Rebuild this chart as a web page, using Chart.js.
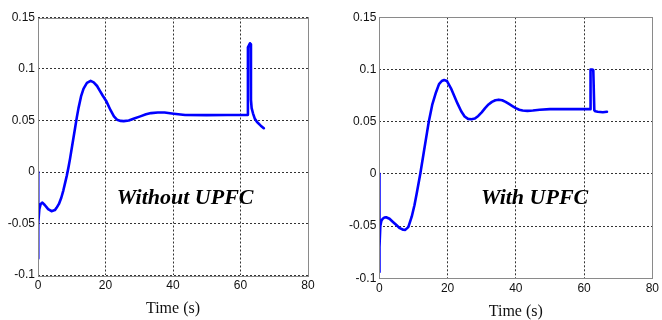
<!DOCTYPE html>
<html>
<head>
<meta charset="utf-8">
<script src="https://cdn.jsdelivr.net/npm/chart.js@4/dist/chart.umd.min.js"></script>
<style>
  html, body { margin: 0; padding: 0; background: #fff; }
  #wrap { position: relative; width: 662px; height: 320px; overflow: hidden; }
  canvas { position: absolute; top: 0; }
</style>
</head>
<body>
<div id="wrap">
  <canvas id="c1" width="330" height="320" style="left:0px"></canvas>
  <canvas id="c2" width="332" height="320" style="left:330px"></canvas>
</div>
<script>
// ---- Data ----
const yTickValues = [-0.1, -0.05, 0, 0.05, 0.1, 0.15];
const yTickLabels = ['-0.1', '-0.05', '0', '0.05', '0.1', '0.15'];
const xTickValues = [0, 20, 40, 60, 80];
const xTickLabels = ['0', '20', '40', '60', '80'];
const xAxisTitle = 'Time (s)';
const panelLabels = ['Without UPFC', 'With UPFC'];

// Without UPFC
const timeWithout = [0, 0, 0.15, 0.4, 0.8, 1.3, 2, 3, 4, 5, 5.5, 6.2, 6.9, 7.5, 8.0, 8.5, 9.0, 9.5, 10, 10.5, 11, 11.5, 12, 12.8, 13.5, 14.5, 15.6, 16.5, 17.5, 18.3, 19.2, 20.2, 21.5, 22.5, 23.4, 24.5, 25.4, 26.9, 28.5, 30.3, 32, 33.5, 35.5, 37.5, 40.2, 43.6, 50, 56, 62.1, 62.2, 62.5, 62.8, 63.0, 63.1, 63.3, 63.7, 64.2, 64.9, 66, 66.9];
const valWithout  = [0, -0.084, -0.05, -0.036, -0.031, -0.0297, -0.032, -0.036, -0.038, -0.037, -0.0348, -0.031, -0.025, -0.018, -0.011, -0.004, 0.004, 0.013, 0.023, 0.033, 0.043, 0.053, 0.062, 0.074, 0.081, 0.0865, 0.0885, 0.087, 0.0835, 0.079, 0.074, 0.069, 0.060, 0.054, 0.0508, 0.0496, 0.0494, 0.050, 0.052, 0.054, 0.056, 0.0572, 0.0578, 0.0577, 0.0566, 0.0553, 0.0552, 0.0553, 0.0555, 0.121, 0.123, 0.125, 0.124, 0.070, 0.062, 0.057, 0.052, 0.0485, 0.045, 0.0425];

// With UPFC
const timeWith = [0, 0, 0.1, 0.3, 0.6, 1, 1.5, 2, 3, 4, 5, 6, 7, 7.6, 8.5, 9.5, 10.3, 11, 12, 13, 14, 14.5, 15.5, 16.6, 17.5, 18.3, 19, 19.8, 21, 22.9, 24, 25, 26, 27, 28, 29, 30, 31, 32, 33, 34, 35, 36, 37, 38, 39, 40, 41, 42, 43.4, 45, 47, 50, 55, 61.8, 61.9, 62.3, 62.7, 62.9, 63.0, 63.3, 64, 65.5, 66.7];
const valWith  = [0, -0.094, -0.07, -0.05, -0.045, -0.043, -0.0418, -0.0415, -0.043, -0.046, -0.049, -0.052, -0.0535, -0.0536, -0.051, -0.041, -0.030, -0.018, 0.0, 0.02, 0.04, 0.05, 0.066, 0.078, 0.086, 0.089, 0.090, 0.089, 0.082, 0.0675, 0.060, 0.055, 0.0527, 0.0523, 0.053, 0.0555, 0.059, 0.063, 0.0665, 0.069, 0.0705, 0.0711, 0.0705, 0.069, 0.067, 0.065, 0.063, 0.0615, 0.0607, 0.0604, 0.0608, 0.0615, 0.062, 0.062, 0.062, 0.1, 0.1, 0.0995, 0.0995, 0.061, 0.060, 0.0595, 0.059, 0.0595];

// ---- helpers ----
function toXY(ts, vs) { return ts.map((t, i) => ({ x: t, y: vs[i] })); }

const framePlugin = {
  id: 'frame',
  afterDraw(chart) {
    const { ctx, chartArea: a } = chart;
    ctx.save();
    ctx.strokeStyle = '#8a8a8a';
    ctx.lineWidth = 1;
    ctx.setLineDash([]);
    ctx.strokeRect(Math.round(a.left) + 0.5, Math.round(a.top) + 0.5,
                   Math.round(a.right - a.left), Math.round(a.bottom - a.top));
    ctx.restore();
  }
};

const labelPlugin = {
  id: 'panelLabel',
  afterDatasetsDraw(chart, args, opts) {
    if (!opts || !opts.text) return;
    const { ctx, scales } = chart;
    const px = scales.x.getPixelForValue(opts.x);
    const py = scales.y.getPixelForValue(opts.y);
    ctx.save();
    ctx.font = 'italic bold 22px "Liberation Serif", "Times New Roman", serif';
    ctx.fillStyle = '#000';
    ctx.textAlign = 'center';
    ctx.textBaseline = 'middle';
    ctx.fillText(opts.text, px, py);
    ctx.restore();
  }
};

function makeChart(id, ts, vs, label, layout) {
  return new Chart(document.getElementById(id), {
    type: 'scatter',
    data: {
      datasets: [{
        data: toXY(ts, vs),
        showLine: true,
        borderColor: '#0000ff',
        backgroundColor: '#0000ff',
        borderWidth: 2.6,
        pointRadius: 0,
        tension: 0,
        borderJoinStyle: 'round',
        borderCapStyle: 'round'
      }]
    },
    plugins: [framePlugin, labelPlugin],
    options: {
      responsive: false,
      animation: false,
      devicePixelRatio: 1,
      layout: { padding: layout.padding },
      plugins: {
        legend: { display: false },
        tooltip: { enabled: false },
        panelLabel: { text: label, x: layout.labelX, y: layout.labelY }
      },
      scales: {
        x: {
          type: 'linear',
          min: 0, max: 80,
          afterBuildTicks: (s) => { s.ticks = xTickValues.map(v => ({ value: v })); },
          afterFit: (s) => { s.height = layout.xHeight; },
          ticks: {
            callback: (v, i) => xTickLabels[i],
            font: { family: '"Liberation Sans", Arial, sans-serif', size: 12 },
            color: '#111',
            padding: 3,
            maxRotation: 0
          },
          grid: { color: '#333', lineWidth: 1, drawTicks: false },
          border: { display: false, dash: [2, 2] },
          title: {
            display: true,
            text: xAxisTitle,
            font: { family: '"Liberation Serif", "Times New Roman", serif', size: 16, lineHeight: 1 },
            color: '#111',
            padding: { top: 0, bottom: layout.titlePad }
          }
        },
        y: {
          type: 'linear',
          min: -0.1, max: 0.15,
          afterBuildTicks: (s) => { s.ticks = yTickValues.map(v => ({ value: v })); },
          afterFit: (s) => { s.width = layout.yWidth; },
          ticks: {
            callback: (v, i) => yTickLabels[i],
            font: { family: '"Liberation Sans", Arial, sans-serif', size: 12 },
            color: '#111',
            padding: 3
          },
          grid: { color: '#333', lineWidth: 1, drawTicks: false },
          border: { display: false, dash: [2, 2] }
        }
      }
    }
  });
}

makeChart('c1', timeWithout, valWithout, panelLabels[0], {
  padding: { left: 0, top: 17.5, right: 22, bottom: 0 },
  yWidth: 38, xHeight: 45, titlePad: 3,
  labelX: 43.6, labelY: -0.0255
});
makeChart('c2', timeWith, valWith, panelLabels[1], {
  padding: { left: 0, top: 17.3, right: 8, bottom: 0 },
  yWidth: 49.3, xHeight: 41.7, titlePad: 0,
  labelX: 45.5, labelY: -0.023
});
</script>
</body>
</html>
